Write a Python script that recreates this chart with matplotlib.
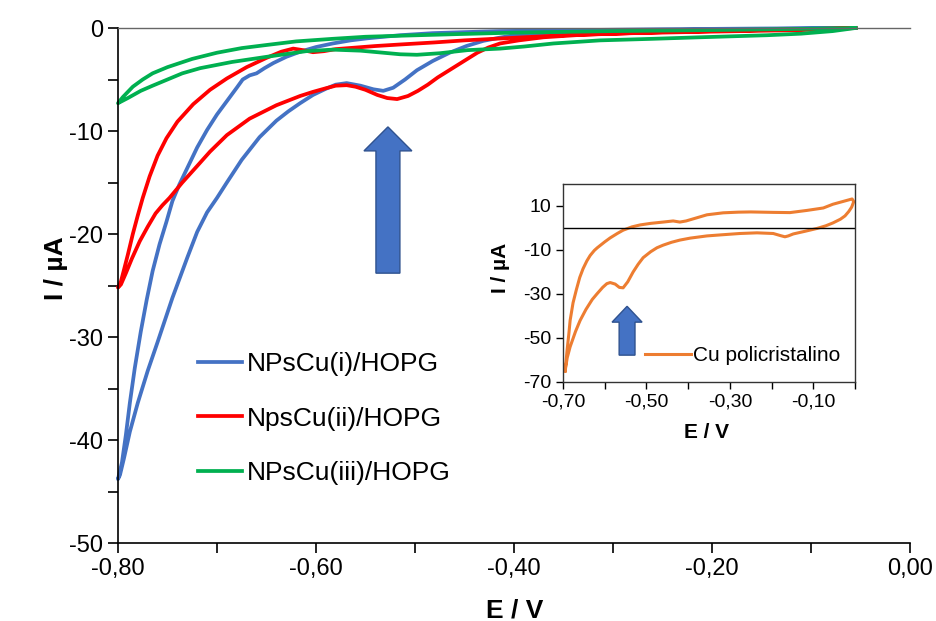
import numpy as np
import matplotlib
matplotlib.use("Agg")
import matplotlib.pyplot as plt
from matplotlib.patches import Polygon
from matplotlib.ticker import FuncFormatter

plt.rcParams['font.family'] = ['Liberation Sans', 'DejaVu Sans']
plt.rcParams['axes.unicode_minus'] = False

# --- main voltammograms (E / V, I / uA), each one closed loop ---
blue_E = [-0.055, -0.10, -0.15, -0.20, -0.25, -0.30, -0.35, -0.38, -0.40, -0.415, -0.431, -0.448,
          -0.465, -0.482, -0.498, -0.51, -0.522, -0.532, -0.542, -0.555, -0.569, -0.58, -0.59,
          -0.603, -0.616, -0.628, -0.64, -0.657, -0.675, -0.69, -0.70, -0.71, -0.72, -0.73,
          -0.745, -0.76, -0.77, -0.78, -0.788, -0.794, -0.798, -0.80,
          -0.796, -0.792, -0.788, -0.783, -0.777, -0.771, -0.765, -0.758, -0.751, -0.745, -0.738,
          -0.73, -0.72, -0.71, -0.70, -0.69, -0.68, -0.674, -0.667, -0.66, -0.652, -0.643, -0.63,
          -0.616, -0.60, -0.583, -0.565, -0.548, -0.515, -0.482, -0.45, -0.415, -0.35, -0.25,
          -0.15, -0.055]
blue_I = [0.0, -0.05, -0.1, -0.15, -0.2, -0.3, -0.4, -0.55, -0.7, -0.95, -1.25, -1.75,
          -2.4, -3.2, -4.1, -5.0, -5.8, -6.1, -5.95, -5.6, -5.35, -5.5, -5.9,
          -6.5, -7.3, -8.1, -9.0, -10.6, -12.8, -15.0, -16.5, -17.9, -19.8, -22.3,
          -26.2, -30.5, -33.3, -36.4, -39.2, -41.8, -43.4, -43.8,
          -42.2, -39.5, -36.4, -33.0, -29.5, -26.4, -23.6, -21.0, -18.8, -16.8, -15.2,
          -13.6, -11.6, -9.9, -8.4, -7.1, -5.8, -5.0, -4.6, -4.4, -3.9, -3.4, -2.8,
          -2.3, -1.85, -1.5, -1.2, -1.0, -0.7, -0.5, -0.4, -0.3, -0.22, -0.12,
          -0.05, 0.0]

red_E = [-0.055, -0.111, -0.20, -0.28, -0.33, -0.37, -0.395, -0.414, -0.426, -0.437, -0.447,
         -0.457, -0.467, -0.477, -0.487, -0.497, -0.507, -0.518, -0.528, -0.538, -0.55, -0.56,
         -0.569, -0.58, -0.59, -0.603, -0.616, -0.64, -0.667, -0.69, -0.707, -0.72, -0.735,
         -0.748, -0.755, -0.762, -0.77, -0.778, -0.786, -0.792, -0.797, -0.80,
         -0.797, -0.794, -0.79, -0.785, -0.78, -0.775, -0.768, -0.76, -0.751, -0.74, -0.724,
         -0.707, -0.69, -0.67, -0.65, -0.635, -0.623, -0.613, -0.603, -0.592, -0.58, -0.56,
         -0.54, -0.515, -0.48, -0.45, -0.40, -0.35, -0.30, -0.25, -0.20, -0.15, -0.10, -0.055]
red_I = [0.0, -0.2, -0.35, -0.5, -0.65, -0.9, -1.2, -1.5, -1.9, -2.4, -3.0,
         -3.6, -4.2, -4.8, -5.5, -6.1, -6.6, -6.9, -6.8, -6.5, -6.0, -5.7,
         -5.55, -5.6, -5.85, -6.2, -6.6, -7.5, -8.8, -10.4, -12.0, -13.4, -15.0,
         -16.5, -17.2, -18.0, -19.3, -20.7, -22.4, -23.8, -24.9, -25.2,
         -24.6, -23.5, -22.0, -20.0, -18.2, -16.5, -14.4, -12.4, -10.7, -9.1, -7.4,
         -6.0, -4.9, -3.8, -2.9, -2.3, -2.0, -2.15, -2.35, -2.25, -2.05, -1.9,
         -1.75, -1.6, -1.4, -1.2, -0.95, -0.7, -0.55, -0.4, -0.3, -0.2, -0.1, 0.0]

green_E = [-0.055, -0.078, -0.11, -0.144, -0.212, -0.26, -0.313, -0.36, -0.39, -0.414, -0.447,
           -0.475, -0.498, -0.515, -0.532, -0.555, -0.583, -0.61, -0.65, -0.685, -0.717, -0.735,
           -0.75, -0.765, -0.777, -0.79, -0.798, -0.80,
           -0.795, -0.79, -0.785, -0.775, -0.765, -0.75, -0.725, -0.70, -0.675, -0.65, -0.62,
           -0.583, -0.55, -0.515, -0.46, -0.40, -0.30, -0.20, -0.12, -0.055]
green_I = [0.0, -0.3, -0.55, -0.7, -0.9, -1.05, -1.2, -1.5, -1.8, -2.0, -2.15,
           -2.45, -2.6, -2.55, -2.4, -2.2, -2.1, -2.25, -2.8, -3.3, -3.9, -4.4,
           -5.0, -5.6, -6.1, -6.8, -7.2, -7.3,
           -6.7, -6.2, -5.7, -5.0, -4.4, -3.8, -3.0, -2.4, -1.95, -1.65, -1.3,
           -1.05, -0.85, -0.75, -0.6, -0.45, -0.3, -0.2, -0.1, 0.0]

# --- inset: polycrystalline Cu ---
cu_E = [-0.695, -0.693, -0.69, -0.686, -0.683, -0.676, -0.668, -0.66, -0.652, -0.643, -0.635,
        -0.625, -0.618, -0.60, -0.587, -0.57, -0.556, -0.535, -0.515, -0.49, -0.46, -0.436,
        -0.42, -0.405, -0.38, -0.355, -0.316, -0.28, -0.25, -0.196, -0.156, -0.115, -0.076,
        -0.053, -0.03, -0.007, -0.003,
        -0.008, -0.015, -0.024, -0.035, -0.053, -0.07, -0.091, -0.12, -0.148, -0.16, -0.168,
        -0.178, -0.196, -0.235, -0.276, -0.32, -0.355, -0.395, -0.42, -0.44, -0.46, -0.475,
        -0.49, -0.508, -0.52, -0.532, -0.545, -0.556, -0.565, -0.575, -0.587, -0.595, -0.605,
        -0.618, -0.63, -0.645, -0.659, -0.67, -0.683, -0.69, -0.695]
cu_I = [-65.0, -61.0, -55.0, -48.0, -42.0, -34.0, -28.0, -22.5, -18.5, -15.0, -12.5,
        -10.2, -9.0, -6.3, -4.5, -2.5, -1.0, 0.5, 1.4, 2.1, 2.7, 3.2,
        2.7, 3.2, 4.6, 6.0, 6.9, 7.2, 7.3, 7.1, 7.0, 8.0, 9.1,
        10.8, 12.0, 13.2, 12.0,
        9.5, 7.5, 5.5, 4.0, 2.3, 1.0, -0.2, -1.5, -2.7, -3.6, -4.0,
        -3.5, -2.5, -2.2, -2.5, -3.1, -3.6, -4.6, -5.5, -6.5, -7.8, -9.0,
        -10.8, -13.5, -16.5, -20.0, -24.5, -27.2, -27.0, -25.5, -24.8, -25.3, -27.0,
        -29.8, -32.5, -37.0, -42.0, -47.0, -54.0, -59.0, -65.0]

labels = ['NPsCu(i)/HOPG', 'NpsCu(ii)/HOPG', 'NPsCu(iii)/HOPG']
colors = ['#4472C4', '#FF0000', '#00B050']


def comma(v, pos):
    return ('%.2f' % (round(v, 2) + 0.0)).replace('.', ',')


def block_arrow(ax, x, y0, y1, half_shaft, half_head, head_len):
    pts = [(x - half_shaft, y0), (x + half_shaft, y0), (x + half_shaft, y1 - head_len),
           (x + half_head, y1 - head_len), (x, y1), (x - half_head, y1 - head_len),
           (x - half_shaft, y1 - head_len)]
    ax.add_patch(Polygon(pts, closed=True, facecolor='#4472C4', edgecolor='#2F528F',
                         lw=1.0, zorder=5))


fig = plt.figure(figsize=(9.37, 6.21), dpi=100)
ax = fig.add_axes([0.1259, 0.1256, 0.8452, 0.8293])

for E, I, c, lab in zip([blue_E, red_E, green_E], [blue_I, red_I, green_I], colors, labels):
    ax.plot(E, I, color=c, lw=2.7, label=lab, solid_joinstyle='round', clip_on=False)

ax.set_xlim(-0.8, 0.0)
ax.set_ylim(-50, 0)
ax.set_xticks(np.arange(-0.8, 0.01, 0.2))
ax.set_xticks(np.arange(-0.7, 0.0, 0.2), minor=True)
ax.set_yticks(np.arange(-50, 1, 10))
ax.set_yticks(np.arange(-45, 0, 10), minor=True)
ax.xaxis.set_major_formatter(FuncFormatter(comma))
ax.tick_params(which='both', direction='out', length=7, width=1.2, labelsize=17, colors='black')
ax.spines['right'].set_visible(False)
ax.spines['top'].set_color('#666666')
ax.spines['top'].set_linewidth(1.0)
ax.spines['left'].set_linewidth(1.2)
ax.spines['bottom'].set_linewidth(1.2)
ax.set_xlabel('E / V', fontsize=19, fontweight='bold')
ax.set_ylabel('I / µA', fontsize=19, fontweight='bold')
ax.xaxis.set_label_coords(0.501, -0.107)
ax.yaxis.set_label_coords(-0.063, 0.534)

ax.legend(loc='upper left', bbox_to_anchor=(198 / 937, 1 - 352 / 621),
          bbox_transform=fig.transFigure, frameon=False, fontsize=19,
          handlelength=1.67, handletextpad=0.2, labelspacing=1.16,
          borderpad=0, borderaxespad=0)

block_arrow(ax, -0.5273, -23.8, -9.6, 0.0121, 0.0242, 2.33)

# inset
axi = fig.add_axes([0.6009, 0.3849, 0.3116, 0.3188])
axi.plot(cu_E, cu_I, color='#ED7D31', lw=2.2, label='Cu policristalino', solid_joinstyle='round')
axi.axhline(0, color='black', lw=1.0)
axi.set_xlim(-0.7, 0.0)
axi.set_ylim(-70, 20)
axi.set_xticks([-0.7, -0.5, -0.3, -0.1])
axi.set_xticks([-0.6, -0.4, -0.2, 0.0], minor=True)
axi.set_yticks([10, -10, -30, -50, -70])
axi.xaxis.set_major_formatter(FuncFormatter(comma))
axi.tick_params(which='both', direction='out', length=5, width=1.0, labelsize=14, colors='black')
for s in axi.spines.values():
    s.set_linewidth(1.0)
    s.set_color('#333333')
axi.set_xlabel('E / V', fontsize=15, fontweight='bold')
axi.set_ylabel('I / µA', fontsize=15, fontweight='bold')
axi.xaxis.set_label_coords(0.493, -0.205)
axi.yaxis.set_label_coords(-0.18, 0.576)
axi.legend(loc='upper left', bbox_to_anchor=(645 / 937, 1 - 346 / 621),
           bbox_transform=fig.transFigure, frameon=False, fontsize=15,
           handlelength=2.2, handletextpad=0.12, borderpad=0, borderaxespad=0)

block_arrow(axi, -0.5465, -57.8, -35.6, 0.019, 0.036, 7.2)

fig.savefig('out.png', dpi=100)
